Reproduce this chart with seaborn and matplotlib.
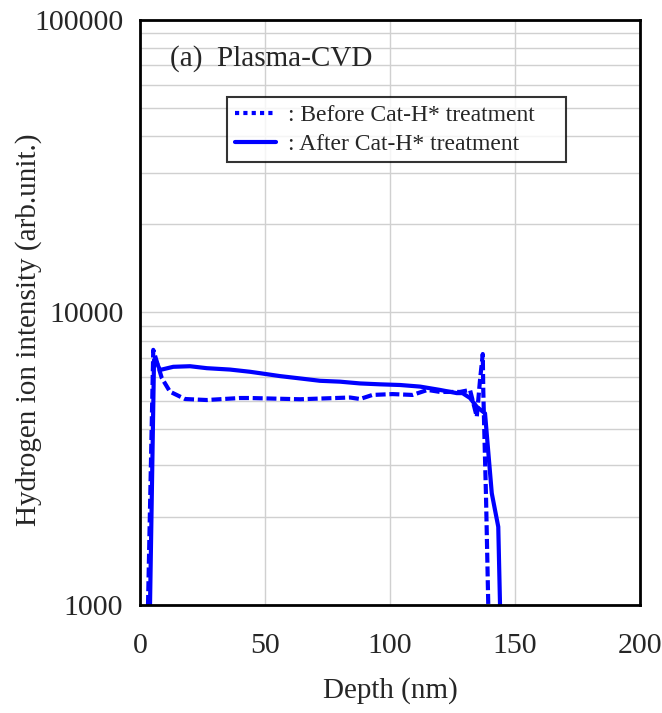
import numpy as np
import pandas as pd
import matplotlib
matplotlib.use("Agg")
import matplotlib.pyplot as plt
import matplotlib.ticker as mticker
from matplotlib.lines import Line2D
import seaborn as sns

# depth (nm) and hydrogen ion intensity
depth_before = [3.2, 5.3, 8.7, 12, 18, 26.7, 40, 44, 64, 84, 88, 93, 101, 109,
                115, 120, 128, 132, 134.7, 135.3, 136, 137.1, 137.3, 137.7, 138.4, 139.3]
before = [1000, 7450, 5970, 5360, 5060, 5020, 5100, 5100, 5050, 5120, 5060, 5225, 5260, 5225,
          5435, 5350, 5350, 5435, 4400, 5020, 5880, 7210, 5435, 3965, 2345, 1000]

depth_after = [4, 5.6, 6.7, 8, 13.3, 20, 26.7, 36, 44, 48, 56, 64, 72, 80, 88, 96,
               104, 112, 120, 126.7, 129, 132, 134.7, 138, 140.7, 143.3, 144]
after = [1000, 6880, 6720, 6360, 6520, 6550, 6450, 6380, 6270, 6200, 6060, 5950, 5840, 5800,
         5720, 5680, 5650, 5580, 5435, 5300, 5300, 5100, 4760, 4520, 2410, 1850, 1000]

df_before = pd.DataFrame({"Depth": depth_before, "Intensity": before})
df_after = pd.DataFrame({"Depth": depth_after, "Intensity": after})

sns.set_theme(style="white")
plt.rcParams["font.family"] = ["Liberation Serif", "DejaVu Serif"]

fig = plt.figure(figsize=(6.62, 7.13), dpi=100)
ax = fig.add_axes([0.2115, 0.1515, 0.7553, 0.8205])

blue = "#0000ff"
sns.lineplot(data=df_before, x="Depth", y="Intensity", ax=ax, sort=False, estimator=None,
             color=blue, linewidth=3, linestyle=(0, (2.4, 0.9)))
sns.lineplot(data=df_after, x="Depth", y="Intensity", ax=ax, sort=False, estimator=None,
             color=blue, linewidth=3)

ax.set_yscale("log")
ax.set_xlim(0, 200)
ax.set_ylim(1000, 100000)

ax.xaxis.set_major_locator(mticker.MultipleLocator(50))
ax.xaxis.set_minor_locator(mticker.MultipleLocator(10))
ax.yaxis.set_major_locator(mticker.LogLocator(base=10))
ax.yaxis.set_minor_locator(mticker.LogLocator(base=10, subs=np.arange(2, 10)))
ax.yaxis.set_major_formatter(mticker.FuncFormatter(lambda v, p: f"{int(round(v))}"))
ax.yaxis.set_minor_formatter(mticker.NullFormatter())

ax.grid(True, which="both", color="#d0d0d0", linewidth=1)
ax.grid(False, which="minor", axis="x")
ax.set_axisbelow(True)

ax.tick_params(axis="x", which="both", direction="in", length=6, width=1.2,
               labelsize=21.5, pad=20, color="black")
ax.tick_params(axis="y", which="both", direction="out", length=6, width=1.2,
               labelsize=21.5, pad=6, color="black")
for s in ax.spines.values():
    s.set_color("black")
    s.set_linewidth(2)

ax.set_xlabel("Depth (nm)", fontsize=21)
ax.set_ylabel("Hydrogen ion intensity (arb.unit.)", fontsize=21)
ax.xaxis.set_label_coords(0.5, -0.123)
ax.yaxis.set_label_coords(-0.196, 0.47)

ax.text(0.06, 0.934, "(a)  Plasma-CVD", transform=ax.transAxes, fontsize=21,
        va="center", ha="left")

handles = [Line2D([], [], color=blue, linewidth=3, linestyle=(0, (1, 1))),
           Line2D([], [], color=blue, linewidth=3)]
leg = ax.legend(handles, [": Before Cat-H* treatment    ", ": After Cat-H* treatment"],
                loc="upper left", bbox_to_anchor=(0.174, 0.868), borderaxespad=0,
                fontsize=17, frameon=True, fancybox=False, handlelength=1.75,
                handletextpad=0.5, labelspacing=0.3, borderpad=0.32)
leg.get_frame().set_edgecolor("black")
leg.get_frame().set_linewidth(1.5)

fig.savefig("out.png", dpi=100)
